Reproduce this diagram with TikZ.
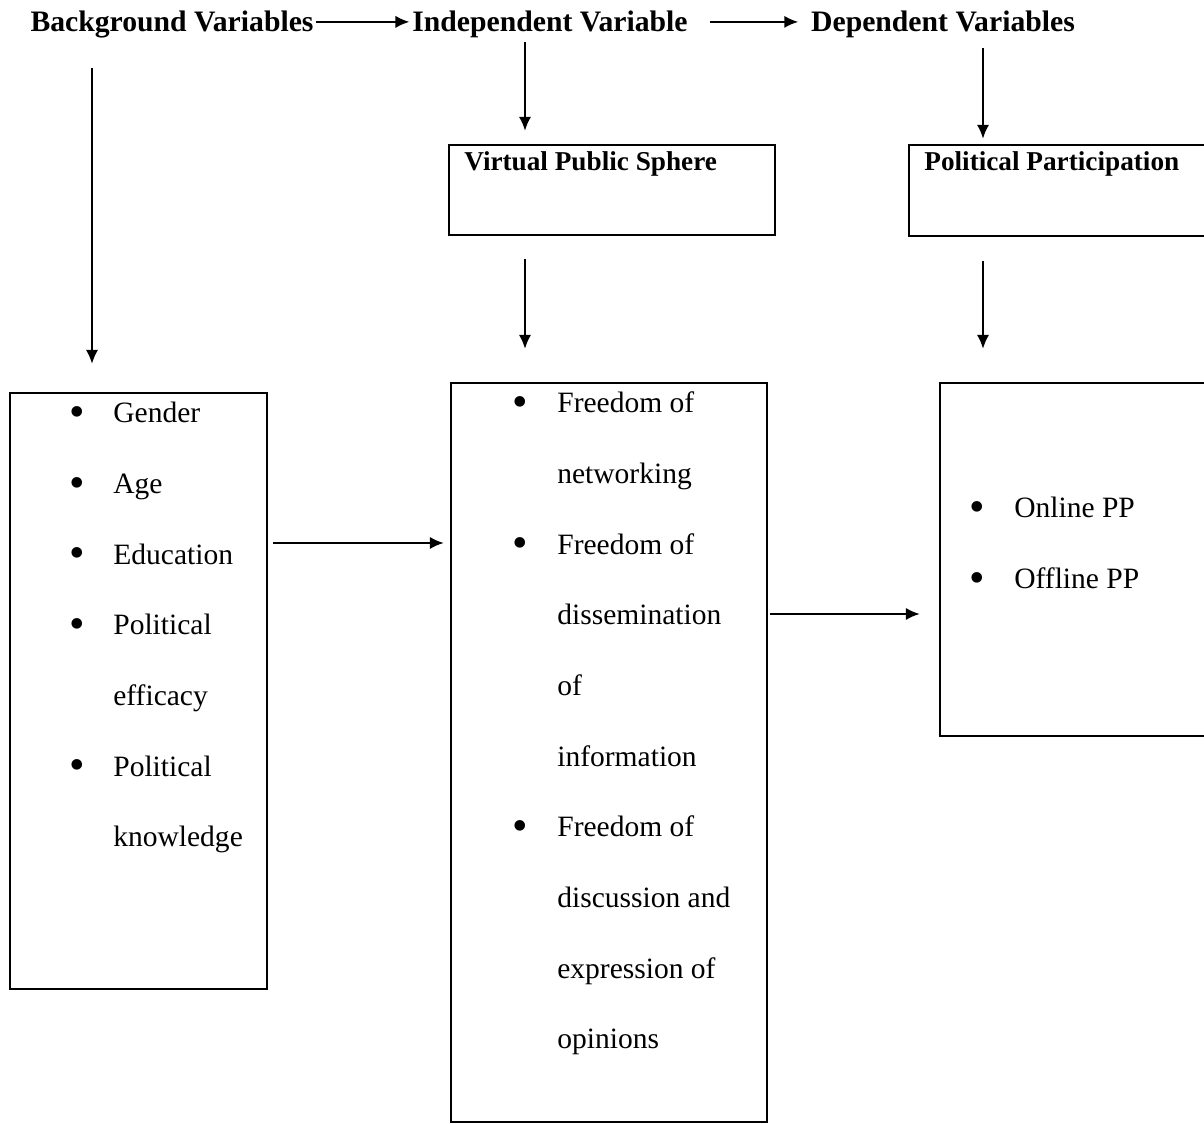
\documentclass[tikz,border=0pt]{standalone}
\usepackage{fontspec}
\usepackage{graphicx}
\setmainfont{Liberation Serif}
\usetikzlibrary{arrows.meta,positioning}

\newcommand{\hdfont}{\bfseries\fontsize{16.9}{20}\selectfont}
\newcommand{\ttlfont}{\bfseries\fontsize{15.5}{18}\selectfont}
\newcommand{\itmfont}{\fontsize{16.8}{40.2}\selectfont}
\newcommand{\bul}{\raisebox{-0.25ex}{\scalebox{1.5}{\textbullet}}}

\begin{document}
\begin{tikzpicture}[
    x=0.02cm, y=-0.02cm,
    hd/.style={anchor=base, font=\hdfont, text height=11.5pt, text depth=0pt, inner xsep=0.05cm, inner ysep=0.1cm},
    box/.style={draw, line width=1.3pt, inner sep=0pt},
    ttl/.style={anchor=base west, inner sep=0pt, font=\ttlfont},
    lst/.style={anchor=base west, inner sep=0pt, font=\itmfont},
    arr/.style={-{Latex[length=8pt, width=7pt]}, line width=1.2pt},
]
\useasboundingbox (0,0) rectangle (1204,1124);

\node[hd] (bg) at (172,32) {Background Variables};
\node[hd] (iv) at (550,32) {Independent Variable};
\node[hd] (dv) at (943,32) {Dependent Variables};

\node[box, minimum width=6.52cm, minimum height=1.8cm] (vps) at (612,190) {};
\node[box, minimum width=5.94cm, minimum height=1.82cm] (pp) at (1057.5,190.5) {};
\node[ttl] (vpsttl) at (464,171) {Virtual Public Sphere};
\node[ttl] (ppttl) at (924,171) {Political Participation};

\node[box, minimum width=5.14cm, minimum height=11.92cm] (bgbox) at (138.5,691) {};
\node[box, minimum width=6.32cm, minimum height=14.78cm] (midbox) at (609,752.5) {};
\node[box, minimum width=5.32cm, minimum height=7.06cm] (rbox) at (1073,559.5) {};

\node[lst] (bglist) at (69,423) {\begin{tabular}[t]{@{}p{0.88cm}@{}l@{}}
\bul & Gender\\
\bul & Age\\
\bul & Education\\
\bul & Political\\
 & efficacy\\
\bul & Political\\
 & knowledge
\end{tabular}};
\node[lst] (midlist) at (512,413) {\begin{tabular}[t]{@{}p{0.9cm}@{}l@{}}
\bul & Freedom of\\
 & networking\\
\bul & Freedom of\\
 & dissemination\\
 & of\\
 & information\\
\bul & Freedom of\\
 & discussion and\\
 & expression of\\
 & opinions
\end{tabular}};
\node[lst] (rlist) at (969,518) {\begin{tabular}[t]{@{}p{0.9cm}@{}l@{}}
\bul & Online PP\\
\bul & Offline PP
\end{tabular}};

\coordinate (bgx) at (92,0);
\coordinate (ivx) at (525,0);
\coordinate (dvx) at (983,0);
\coordinate (hya) at (0,543);
\coordinate (hyb) at (0,614);

\draw[arr] (bg) -- (iv);
\draw[arr, shorten <=0.4cm, shorten >=0.2cm] (iv) -- (dv);
\draw[arr, shorten <=0.62cm, shorten >=0.56cm] (bgx |- bg.south) -- (bgx |- bgbox.north);
\draw[arr, shorten <=0.1cm, shorten >=0.26cm] (ivx |- iv.south) -- (ivx |- vps.north);
\draw[arr, shorten <=0.46cm, shorten >=0.66cm] (ivx |- vps.south) -- (ivx |- midbox.north);
\draw[arr, shorten <=0.22cm, shorten >=0.1cm] (dvx |- dv.south) -- (dvx |- pp.north);
\draw[arr, shorten <=0.48cm, shorten >=0.66cm] (dvx |- pp.south) -- (dvx |- rbox.north);
\draw[arr, shorten <=0.1cm, shorten >=0.12cm] (bgbox.east |- hya) -- (midbox.west |- hya);
\draw[arr, shorten <=0.04cm, shorten >=0.38cm] (midbox.east |- hyb) -- (rbox.west |- hyb);
\end{tikzpicture}
\end{document}
